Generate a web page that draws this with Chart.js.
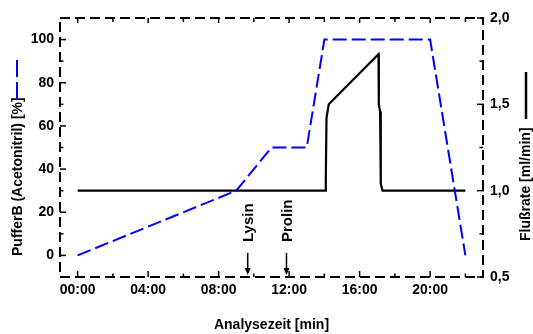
<!DOCTYPE html>
<html>
<head>
<meta charset="utf-8">
<script src="https://cdn.jsdelivr.net/npm/chart.js@4"></script>
<style>
  html, body { margin: 0; padding: 0; background: #fff; }
  #wrap { width: 533px; height: 334px; }
</style>
</head>
<body>
<div id="wrap"><canvas id="c" width="533" height="334"></canvas></div>
<script>
// Gradient programme: eluent B share over time
const gradientTime = [0, 9, 11, 13, 14, 20, 22];
const gradientB = [0, 30, 50, 50, 100, 100, 0];

// Flow rate over time
const flowTime = [0, 14.05, 14.08, 14.12, 14.2, 14.25, 17.07, 17.09, 17.16, 17.2, 17.3, 22];
const flowRate = [1.0, 1.0, 1.06, 1.42, 1.47, 1.5, 1.79, 1.5, 1.46, 1.04, 1.0, 1.0];

// Axis ticks and labels
const timeTicks = [0, 4, 8, 12, 16, 20];
const timeLabels = ["00:00", "04:00", "08:00", "12:00", "16:00", "20:00"];
const timeMinor = [2, 6, 10, 14, 18, 22];
const percentTicks = [0, 20, 40, 60, 80, 100];
const percentLabels = ["0", "20", "40", "60", "80", "100"];
const percentMinor = [10, 30, 50, 70, 90];
const flowTicks = [0.5, 1.0, 1.5, 2.0];
const flowLabels = ["0,5", "1,0", "1,5", "2,0"];
const flowMinor = [0.75, 1.25, 1.75];

// Elution markers
const markerNames = ["Lysin", "Prolin"];
const markerTimes = [9.65, 11.85];

const FONT = "'Liberation Sans', Arial, sans-serif";
const BLUE = "rgb(0,0,255)";

function setTicks(values) {
  return function (scale) { scale.ticks = values.map(v => ({ value: v })); };
}

const framePlugin = {
  id: 'frame',
  afterDatasetsDraw(chart) {
    const { ctx, chartArea: a, scales } = chart;
    const x = scales.x, y = scales.y, y1 = scales.y1;
    ctx.save();
    ctx.strokeStyle = '#000';
    ctx.fillStyle = '#000';

    // dashed box
    ctx.lineWidth = 2;
    ctx.setLineDash([10, 5]);
    ctx.strokeRect(a.left, a.top, a.right - a.left, a.bottom - a.top);
    ctx.setLineDash([]);

    const seg = (x1, yA, x2, yB) => { ctx.beginPath(); ctx.moveTo(x1, yA); ctx.lineTo(x2, yB); ctx.stroke(); };
    ctx.lineWidth = 1.5;
    timeTicks.forEach(v => { const p = x.getPixelForValue(v); seg(p, a.bottom, p, a.bottom - 6); seg(p, a.top, p, a.top + 5); });
    timeMinor.forEach(v => { const p = x.getPixelForValue(v); seg(p, a.bottom, p, a.bottom - 3.5); seg(p, a.top, p, a.top + 4); });
    percentTicks.forEach(v => { const p = y.getPixelForValue(v); seg(a.left, p, a.left + 6, p); });
    percentMinor.forEach(v => { const p = y.getPixelForValue(v); seg(a.left, p, a.left + 3.5, p); });
    flowTicks.forEach(v => { const p = y1.getPixelForValue(v); seg(a.right + 1, p, a.right - 6, p); });
    flowMinor.forEach(v => { const p = y1.getPixelForValue(v); seg(a.right, p, a.right - 3.5, p); });

    // elution markers with arrows
    markerNames.forEach((name, i) => {
      const p = x.getPixelForValue(markerTimes[i]);
      const yTop = y.getPixelForValue(1.2);
      ctx.lineWidth = 1.5;
      seg(p, yTop, p, a.bottom - 8);
      ctx.beginPath();
      ctx.moveTo(p - 3, a.bottom - 9);
      ctx.lineTo(p + 3, a.bottom - 9);
      ctx.lineTo(p, a.bottom - 2);
      ctx.closePath();
      ctx.fill();

      ctx.save();
      ctx.translate(p, y.getPixelForValue(6.2));
      ctx.rotate(-Math.PI / 2);
      ctx.font = "bold 15px " + FONT;
      ctx.textAlign = 'left';
      ctx.textBaseline = 'middle';
      ctx.fillText(name, 0, 1);
      ctx.restore();
    });

    // axis titles
    ctx.font = "bold 14px " + FONT;
    ctx.textBaseline = 'middle';
    ctx.textAlign = 'center';
    ctx.fillText("Analysezeit [min]", (a.left + a.right) / 2, 325);

    // left title with line sample
    ctx.save();
    ctx.translate(18, 256);
    ctx.rotate(-Math.PI / 2);
    ctx.textAlign = 'left';
    ctx.fillText("PufferB (Acetonitril) [%]", 0, 0);
    ctx.restore();
    ctx.strokeStyle = BLUE;
    ctx.lineWidth = 2;
    ctx.setLineDash([18, 5]);
    seg(17, 100, 17, 60);
    ctx.setLineDash([]);

    // right title with line sample
    ctx.save();
    ctx.translate(526, 241);
    ctx.rotate(-Math.PI / 2);
    ctx.textAlign = 'left';
    ctx.fillText("Flußrate [ml/min]", 0, 0);
    ctx.restore();
    ctx.strokeStyle = '#000';
    ctx.lineWidth = 2.5;
    seg(526, 119, 526, 72);

    ctx.restore();
  }
};

new Chart(document.getElementById('c'), {
  type: 'line',
  data: {
    datasets: [
      {
        label: 'PufferB (Acetonitril) [%]',
        data: gradientTime.map((t, i) => ({ x: t, y: gradientB[i] })),
        yAxisID: 'y',
        borderColor: BLUE,
        borderWidth: 2,
        borderDash: [14, 5],
        pointRadius: 0,
        tension: 0,
        fill: false
      },
      {
        label: 'Flußrate [ml/min]',
        data: flowTime.map((t, i) => ({ x: t, y: flowRate[i] })),
        yAxisID: 'y1',
        borderColor: '#000',
        borderWidth: 2.2,
        pointRadius: 0,
        tension: 0,
        fill: false
      }
    ]
  },
  options: {
    responsive: false,
    animation: false,
    layout: { padding: { top: 18, left: 0, right: 0, bottom: 0 } },
    plugins: { legend: { display: false }, tooltip: { enabled: false } },
    scales: {
      x: {
        type: 'linear',
        min: -1, max: 23,
        afterBuildTicks: setTicks(timeTicks),
        afterFit(s) { s.height = 57; },
        grid: { display: false, drawTicks: false },
        border: { display: false },
        ticks: {
          autoSkip: false, maxRotation: 0, padding: 5,
          color: '#000', font: { family: FONT, size: 14, weight: 'bold' },
          callback: (v, i) => timeLabels[i]
        }
      },
      y: {
        type: 'linear', position: 'left',
        min: -10, max: 110,
        afterBuildTicks: setTicks(percentTicks),
        afterFit(s) { s.width = 60; },
        grid: { display: false, drawTicks: false },
        border: { display: false },
        ticks: {
          autoSkip: false, padding: 6,
          color: '#000', font: { family: FONT, size: 14, weight: 'bold' },
          callback: (v, i) => percentLabels[i]
        }
      },
      y1: {
        type: 'linear', position: 'right',
        min: 0.5, max: 2.0,
        afterBuildTicks: setTicks(flowTicks),
        afterFit(s) { s.width = 50; },
        grid: { display: false, drawTicks: false },
        border: { display: false },
        ticks: {
          autoSkip: false, padding: 7,
          color: '#000', font: { family: FONT, size: 14, weight: 'bold' },
          callback: (v, i) => flowLabels[i]
        }
      }
    }
  },
  plugins: [framePlugin]
});
</script>
</body>
</html>
